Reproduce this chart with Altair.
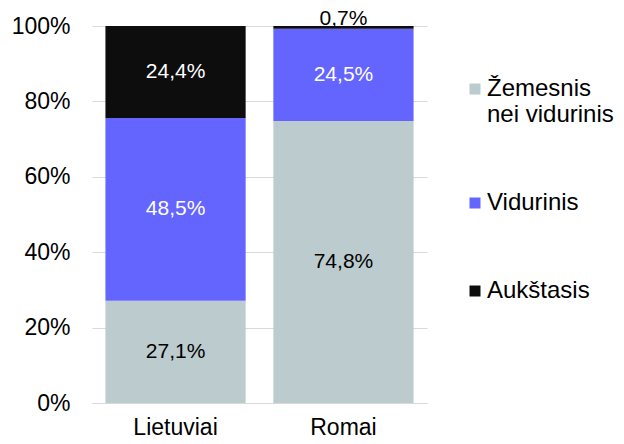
import altair as alt
import pandas as pd

categories = ["Lietuviai", "Romai"]
levels = ["Žemesnis nei vidurinis", "Vidurinis", "Aukštasis"]
lietuviai = [27.1, 48.5, 24.4]
romai = [74.8, 24.5, 0.7]
level_colors = ["#BCCBCD", "#6464FF", "#0D0D0D"]
label_colors = ["#000000", "#FFFFFF", "#FFFFFF"]

rows = []
for cat, vals in zip(categories, [lietuviai, romai]):
    for i, (lvl, v) in enumerate(zip(levels, vals)):
        rows.append({
            "cat": cat, "lvl": lvl, "rank": i, "value": v / 100,
            "label": f"{v:.1f}%".replace(".", ","), "tc": label_colors[i],
        })
df = pd.DataFrame(rows)

FONT = "Liberation Sans"

base = alt.Chart(df).transform_stack(
    stack="value", groupby=["cat"], sort=[alt.SortField("rank")], as_=["y0", "y1"]
).transform_calculate(
    mid="(datum.y0 + datum.y1) / 2", seg="datum.y1 - datum.y0"
)

x_enc = alt.X(
    "cat:N",
    scale=alt.Scale(domain=categories, paddingInner=0.165, paddingOuter=0.08),
    axis=alt.Axis(
        title=None, labelAngle=0, labelFontSize=23, labelColor="#000000",
        labelFont=FONT, ticks=False, tickSize=0, domain=True,
        domainColor="#D9D9D9", labelPadding=13,
    ),
)

y_axis = alt.Axis(
    title=None, format=".0%", values=[0, 0.2, 0.4, 0.6, 0.8, 1.0],
    labelFontSize=23, labelFont=FONT, labelColor="#000000", ticks=False,
    tickSize=0, domain=False, grid=True, gridColor="#D9D9D9", labelPadding=22,
)

bars = base.mark_bar().encode(
    x=x_enc,
    y=alt.Y("y0:Q", scale=alt.Scale(domain=[0, 1]), axis=y_axis),
    y2="y1:Q",
    color=alt.Color(
        "lvl:N",
        scale=alt.Scale(domain=levels, range=level_colors),
        legend=alt.Legend(
            title=None, orient="none", legendX=371, legendY=51,
            symbolType="square", symbolSize=121, symbolStrokeWidth=0,
            labelFontSize=24, labelFont=FONT, labelColor="#000000",
            labelOffset=0, rowPadding=64, labelLimit=400,
            labelExpr="datum.label == 'Žemesnis nei vidurinis' ? ['Žemesnis', 'nei vidurinis'] : datum.label",
        ),
    ),
)

big_labels = base.transform_filter("datum.seg >= 0.05").mark_text(
    fontSize=21, font=FONT, baseline="middle"
).encode(
    x=alt.X("cat:N", scale=alt.Scale(domain=categories)),
    y=alt.Y("mid:Q"),
    text="label:N",
    color=alt.Color("tc:N", scale=None),
)

small_labels = base.transform_filter("datum.seg < 0.05").mark_text(
    fontSize=21, font=FONT, baseline="alphabetic", dy=-1, color="#000000"
).encode(
    x=alt.X("cat:N", scale=alt.Scale(domain=categories)),
    y=alt.Y("y1:Q"),
    text="label:N",
)

chart = alt.layer(bars, big_labels, small_labels).resolve_scale(
    color="independent"
).properties(
    width=335, height=377,
    autosize=alt.AutoSizeParams(type="none"),
    padding={"left": 84, "top": 18, "right": 189, "bottom": 33},
    background="white",
).configure_view(stroke=None)

chart.save("out.html", embed_options={"renderer": "svg", "actions": False})
